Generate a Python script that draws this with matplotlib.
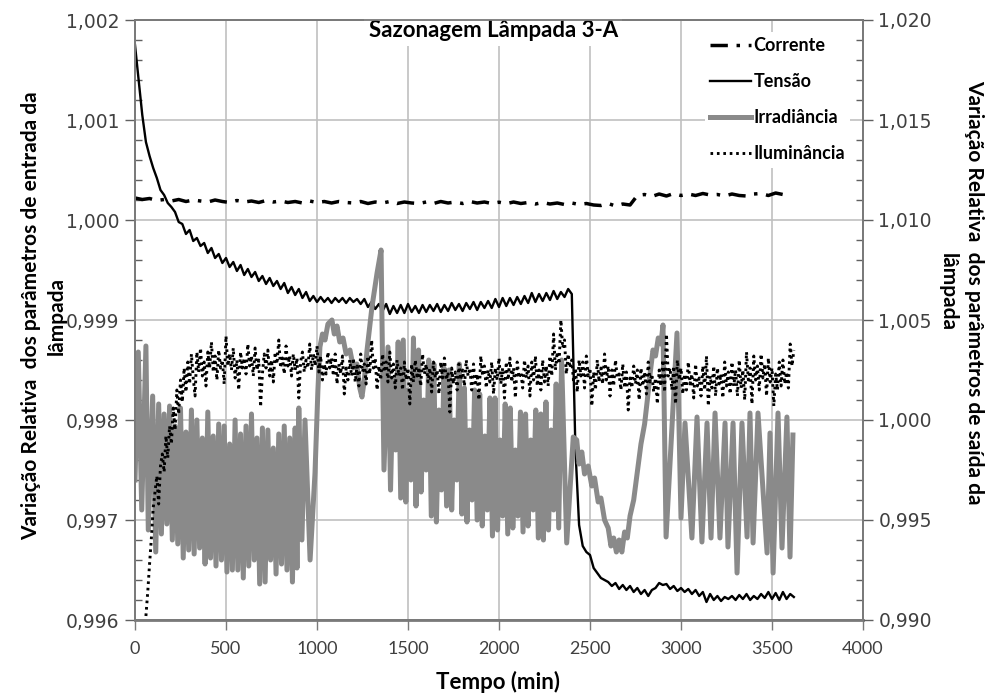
import numpy as np
import matplotlib
matplotlib.use("Agg")
import matplotlib.pyplot as plt
from matplotlib.ticker import MultipleLocator, FuncFormatter

# all series stored as deviation in ppm: value = 1 + ppm / 1e6
# --- Corrente (left axis), one reading every 40 min ---
corrente_step = 40
corrente_ppm = [
    220, 205, 215, 195, 205, 190, 205, 185, 200, 190,
    180, 200, 185, 175, 195, 180, 190, 175, 195, 180,
    190, 175, 185, 170, 190, 175, 185, 170, 185, 175,
    170, 185, 165, 180, 170, 185, 165, 180, 170, 165,
    180, 165, 185, 170, 180, 165, 185, 170, 180, 165,
    178, 163, 180, 165, 175, 160, 175, 160, 170, 155,
    170, 155, 165, 150, 145, 165, 140, 160, 150, 245,
    255, 235, 260, 240, 265, 245, 260, 245, 265, 250,
    255, 240, 260, 245, 240, 260, 265, 245, 270, 255,
    235,
]

# --- Tensão (left axis), one reading every 20 min ---
tensao_step = 20
tensao_ppm = [
    1750, 1400, 1050, 780, 640, 520, 420, 300, 250, 170,
    130, 80, -20, -40, -140, -100, -210, -180, -260, -230,
    -330, -280, -380, -340, -430, -380, -470, -420, -510, -450,
    -550, -490, -570, -520, -610, -560, -640, -580, -660, -610,
    -690, -630, -730, -670, -750, -690, -780, -720, -810, -760,
    -820, -770, -820, -780, -830, -780, -820, -780, -830, -780,
    -820, -790, -840, -790, -870, -820, -890, -840, -910, -840,
    -940, -860, -930, -850, -930, -840, -920, -860, -930, -850,
    -920, -850, -910, -840, -920, -850, -910, -830, -900, -840,
    -910, -830, -890, -820, -900, -820, -880, -810, -880, -790,
    -870, -780, -860, -780, -850, -770, -840, -760, -830, -730,
    -820, -740, -810, -730, -800, -710, -790, -720, -770, -690,
    -740, -2300, -3050, -3260, -3320, -3350, -3480, -3530, -3580, -3600,
    -3620, -3660, -3630, -3690, -3650, -3700, -3660, -3720, -3680, -3740,
    -3700, -3760, -3700, -3680, -3630, -3650, -3640, -3690, -3660, -3710,
    -3680, -3720, -3690, -3740, -3700, -3760, -3720, -3820, -3740, -3800,
    -3760, -3810, -3770, -3790, -3760, -3800, -3750, -3790, -3740, -3800,
    -3760, -3790, -3740, -3780, -3720, -3790, -3730, -3800, -3720, -3790,
    -3740, -3770,
]

# --- Iluminância (right axis), every 10 min starting at 60 min ---
ilum_start = 60
ilum_step = 10
ilum_ppm = [
    -9800, -8600, -7200, -5900, -4400, -3600, -2800, -4200, -2300, -1700,
    -2600, -800, -1900, -300, -1200, 600, -500, 1500, 300, 2000,
    900, 2600, 1400, 2900, 1800, 3300, 2100, 1200, 3400, 2400,
    3600, 2200, 2900, 1700, 3400, 2600, 3900, 2400, 3200, 2000,
    3500, 2600, 3000, 1800, 4200, 2700, 3300, 2500, 3600, 2100,
    3000, 1500, 3400, 2600, 3100, 2300, 3800, 2700, 3200, 2200,
    3600, 2500, 3000, 650, 2300, 3300, 2600, 3500, 2200, 3000,
    1900, 3400, 2800, 4000, 2600, 3100, 2300, 3700, 2700, 3200,
    2200, 3300, 2500, 3100, 1100, 2900, 3400, 2400, 3000, 2600,
    3800, 2500, 3300, 2700, 3700, 2400, 3200, 2000, 2800, 2300,
    3400, 2600, 3100, 2200, 3300, 1800, 2800, 2300, 3200, 1300,
    2600, 2000, 3000, 2200, 3100, 1900, 2700, 1700, 3300, 2400,
    2800, 1800, 3200, 2300, 4000, 2600, 3100, 1500, 2700, 2000,
    3300, 2400, 2900, 1900, 3400, 2100, 2800, 1600, 3000, 2200,
    2600, 1500, 2900, 2000, 2600, 800, 2800, 1900, 3000, 2200,
    2500, 1700, 3300, 2300, 2800, 1900, 2600, 1400, 2900, 2100,
    2500, 1300, 2900, 2100, 3100, 2000, 2400, 400, 2600, 1800,
    2400, 1500, 2800, 2000, 2500, 1700, 3000, 2200, 2600, 1500,
    2800, 1700, 2300, 1000, 3200, 2200, 2700, 1600, 2500, 1900,
    2900, 1300, 2600, 2000, 3100, 1800, 2600, 1100, 2900, 2000,
    3100, 1900, 2600, 1100, 2900, 2100, 2400, 1600, 3000, 2100,
    2700, 1200, 2900, 2000, 3200, 1700, 2500, 1500, 3000, 1900,
    2700, 1700, 3200, 2200, 4300, 2500, 3400, 2800, 5000, 3600,
    4000, 2300, 3300, 2600, 3000, 1900, 2600, 1400, 3000, 2200,
    2900, 1600, 3200, 2200, 2600, 700, 2400, 1500, 3000, 1900,
    2600, 1800, 3300, 2000, 2700, 1200, 2500, 1700, 3000, 2100,
    2300, 1500, 2800, 1600, 2400, 500, 2100, 1600, 2700, 1800,
    2500, 1000, 2600, 1700, 2400, 1300, 2900, 1900, 2300, 1400,
    2100, 800, 2500, 1700, 3000, 1400, 4300, 2200, 2600, 1500,
    2700, 800, 3000, 2000, 2600, 1300, 2300, 1500, 2900, 1800,
    2300, 1100, 2800, 1700, 2100, 1200, 2700, 1500, 3200, 700,
    2200, 1600, 2700, 1200, 2600, 1800, 2300, 1100, 2900, 1700,
    2400, 1300, 2900, 1700, 2500, 1200, 3000, 1600, 2500, 1000,
    3400, 2000, 2600, 800, 3200, 2000, 2700, 1500, 3300, 2100,
    2800, 1200, 3100, 1900, 2600, 700, 2300, 1500, 2900, 1700,
    3000, 1800, 2400, 1600, 3800, 2700, 3500,
]

# --- Irradiância (right axis), (min, ppm) read peak by peak ---
irr_points = [
    (0, -3000), (18, 3400), (37, -4500), (60, 3700), (73, -5500),
    (97, 1200), (114, -6600), (130, 800), (145, -5700), (160, 300),
    (175, -5200), (190, 700), (205, -6000), (220, -300), (235, -6200),
    (250, 600), (265, -6900), (280, -600), (295, -6500), (310, 500),
    (325, -6700), (340, 0), (355, -6400), (370, -900), (385, -7200),
    (400, 400), (415, -6900), (430, -800), (445, -7300), (460, -200),
    (475, -7000), (490, -300), (505, -7600), (520, -1200), (535, -7500),
    (550, 0), (565, -7500), (580, -700), (595, -7900), (610, -300),
    (625, -7300), (640, 300), (655, -7000), (670, -900), (685, -8200),
    (700, -400), (715, -8100), (730, -500), (745, -7000), (760, -1400),
    (775, -7700), (790, -700), (805, -7200), (820, -300), (835, -7500),
    (850, -900), (865, -8100), (880, -400), (890, -7400), (900, 600),
    (917, -6000), (934, 0), (962, -7000), (989, -2650), (1005, 1500),
    (1016, 3650), (1030, 4300), (1044, 4000), (1060, 4800), (1082, 5000),
    (1095, 4300), (1110, 4700), (1125, 3900), (1143, 4100), (1160, 3300),
    (1181, 3500), (1200, 2600), (1219, 2800), (1235, 1600), (1247, 1150),
    (1260, 2000), (1275, 3500), (1302, 5650), (1330, 7350), (1352, 8500),
    (1363, 650), (1368, -2500), (1390, 3650), (1404, -3500), (1418, 2000),
    (1432, -1500), (1446, 3900), (1460, -3900), (1474, 4000), (1488, -4100),
    (1502, 1500), (1516, -3000), (1530, 4100), (1544, -4300), (1558, 3500),
    (1572, -3600), (1586, 1000), (1600, -2500), (1614, 3000), (1628, -4800),
    (1642, 2800), (1656, -5100), (1670, 500), (1684, -3500), (1698, 2600),
    (1712, -4300), (1726, 2500), (1740, -4500), (1754, 0), (1768, -3000),
    (1782, 2800), (1796, -4700), (1810, 1600), (1824, -5100), (1838, -500),
    (1852, -4000), (1866, 1500), (1880, -5000), (1894, 1300), (1908, -5300),
    (1922, -800), (1936, -4500), (1950, 1100), (1964, -5800), (1978, 1100),
    (1992, -5500), (2006, -1000), (2020, -4800), (2034, 800), (2048, -5700),
    (2062, 600), (2076, -5400), (2090, -1500), (2104, -4800), (2118, 400),
    (2132, -5600), (2146, 300), (2160, -5300), (2174, -1000), (2188, -4500),
    (2202, 500), (2216, -5900), (2230, 300), (2244, -6000), (2258, 900),
    (2272, -5500), (2286, -500), (2300, -4500), (2314, 1800), (2328, -5400),
    (2344, 3000), (2372, -6150), (2408, -850), (2427, -1000), (2440, -2200),
    (2455, -1600), (2470, -2700), (2490, -2300), (2510, -3300), (2525, -2900),
    (2545, -4100), (2560, -3900), (2580, -5000), (2600, -5400), (2615, -6300),
    (2630, -5900), (2645, -6600), (2660, -6000), (2675, -6600), (2690, -5600),
    (2705, -5900), (2720, -4800), (2740, -4000), (2760, -2600), (2780, -1200),
    (2800, -200), (2815, 1000), (2830, 2300), (2846, 3500), (2860, 3200),
    (2875, 4100), (2890, 3800), (2901, 4750), (2918, -5850), (2978, 4350),
    (3000, -4900), (3022, -150), (3060, -5900), (3088, 150), (3115, -6100),
    (3143, -150), (3165, -5900), (3187, 350), (3214, -5900), (3242, -150),
    (3258, -6350), (3286, -150), (3308, -7650), (3335, -150), (3363, -5850),
    (3379, 350), (3396, -6150), (3423, 350), (3473, -6650), (3489, -650),
    (3506, -7650), (3533, 350), (3555, -6400), (3582, 150), (3599, -6850),
    (3615, -750),
]


def rel(ppm):
    return 1 + np.asarray(ppm, dtype=float) / 1e6


corrente_t = np.arange(len(corrente_ppm)) * corrente_step
tensao_t = np.arange(len(tensao_ppm)) * tensao_step
ilum_t = ilum_start + np.arange(len(ilum_ppm)) * ilum_step
irr_t = [p[0] for p in irr_points]
irr_v = [p[1] for p in irr_points]

label_font = "Lato"
tick_col = "#404040"

fig = plt.figure(figsize=(9.91, 6.95), dpi=100)
ax = fig.add_axes([135 / 991, 1 - 620 / 695, 728 / 991, 600 / 695])
ax2 = ax.twinx()

l_cor, = ax.plot(corrente_t, rel(corrente_ppm), color="black", lw=2.5,
                 dashes=(5, 2.5, 1, 2.5), label="Corrente")
l_ten, = ax.plot(tensao_t, rel(tensao_ppm), color="black", lw=1.7, label="Tensão")
l_irr, = ax2.plot(irr_t, rel(irr_v), color="#8a8a8a", lw=3.6, label="Irradiância")
l_ilu, = ax2.plot(ilum_t, rel(ilum_ppm), color="black", lw=2.1,
                  dashes=(0.9, 1.3), label="Iluminância")

ax.set_xlim(0, 4000)
ax.set_ylim(0.996, 1.002)
ax2.set_ylim(0.990, 1.020)

ax.xaxis.set_major_locator(MultipleLocator(500))
ax.yaxis.set_major_locator(MultipleLocator(0.001))
ax.yaxis.set_minor_locator(MultipleLocator(0.0002))
ax2.yaxis.set_major_locator(MultipleLocator(0.005))
ax2.yaxis.set_minor_locator(MultipleLocator(0.001))

fmt = FuncFormatter(lambda v, p: f"{v:.3f}".replace(".", ","))
ax.yaxis.set_major_formatter(fmt)
ax2.yaxis.set_major_formatter(fmt)

ax.grid(True, which="major", color="#c0c0c0", lw=1.2)
ax.set_axisbelow(True)

for a in (ax, ax2):
    a.tick_params(axis="y", which="major", direction="out", length=7, width=1,
                  color="#606060", labelsize=13.5, labelcolor=tick_col, pad=4)
    a.tick_params(axis="y", which="minor", direction="in", length=5, width=1,
                  color="#606060")
    for s in a.spines.values():
        s.set_color("#7a7a7a")
        s.set_linewidth(1.3)
ax.spines["bottom"].set_linewidth(2)
ax.tick_params(axis="x", which="major", direction="out", length=7, width=1,
               color="#7a7a7a", labelcolor=tick_col, pad=8)
for lab in ax.get_xticklabels():
    lab.set_fontfamily(label_font)
    lab.set_fontsize(13)

ax.text(0.492, 0.982, "Sazonagem Lâmpada 3-A", transform=ax.transAxes,
        ha="center", va="center", fontsize=16, fontweight="bold",
        family=label_font, zorder=20,
        bbox=dict(facecolor="white", edgecolor="none", pad=3))

leg = ax2.legend(handles=[l_cor, l_ten, l_irr, l_ilu], loc="upper right",
                 bbox_to_anchor=(0.995, 0.995), frameon=True, facecolor="white",
                 edgecolor="none", framealpha=1, fancybox=False,
                 prop={"family": label_font, "weight": "bold", "size": 13},
                 handlelength=2.3, handletextpad=0.1, labelspacing=1.05,
                 borderpad=0.3)
leg.set_zorder(20)

fig.text(498 / 991, 1 - 682 / 695, "Tempo (min)", ha="center", va="center",
         fontsize=16, fontweight="bold", family=label_font)
fig.text(44 / 991, 1 - 316 / 695,
         "Variação Relativa  dos parâmetros de entrada da\nlâmpada",
         rotation=90, ha="center", va="center", ma="center", fontsize=15,
         fontweight="bold", family=label_font, linespacing=1.4)
fig.text(961 / 991, 1 - 292 / 695,
         "Variação Relativa  dos parâmetros de saída da\nlâmpada",
         rotation=270, ha="center", va="center", ma="center", fontsize=15,
         fontweight="bold", family=label_font, linespacing=1.4)

fig.savefig("out.png", dpi=100)
